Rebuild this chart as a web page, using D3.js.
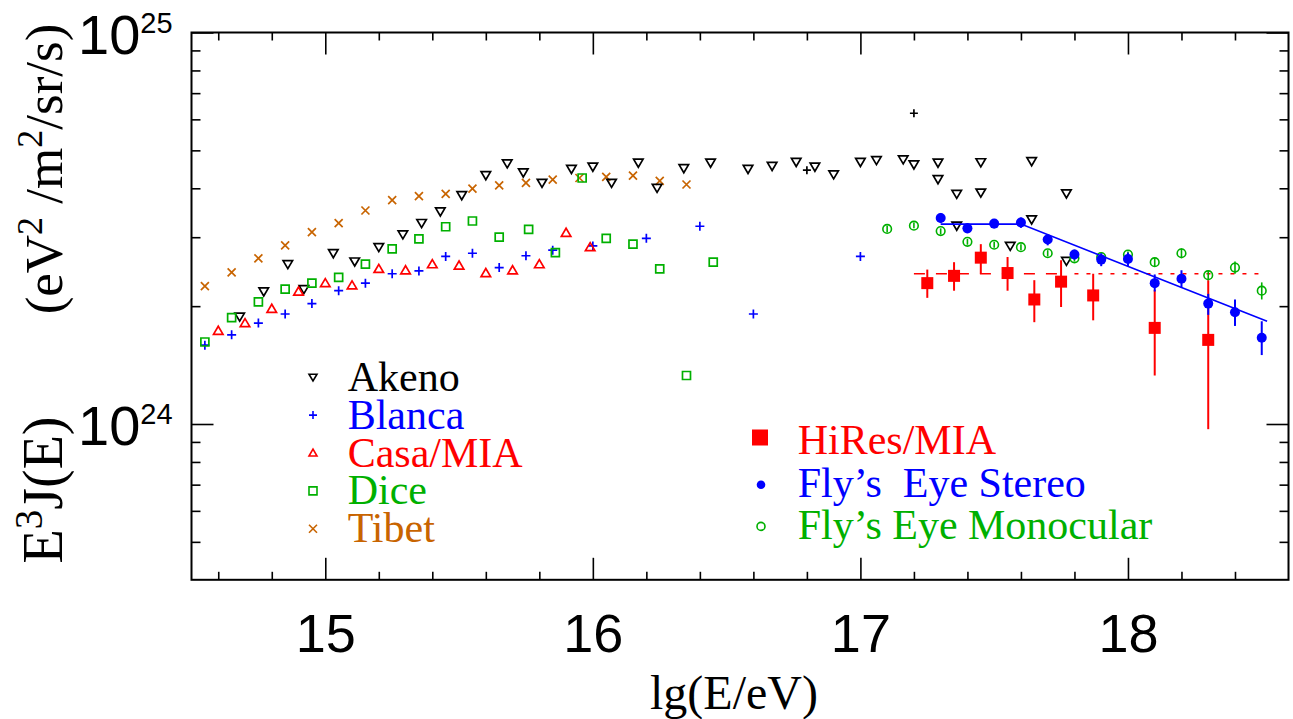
<!DOCTYPE html>
<html>
<head>
<meta charset="utf-8">
<script src="https://cdn.jsdelivr.net/npm/d3@7"></script>
<style>
  html, body { margin: 0; padding: 0; background: #fff; }
  svg { display: block; }
</style>
</head>
<body>
<div id="chart"></div>
<script>
// energies are lg(E/eV), fluxes are E^3 J(E) in units of 1e24 eV^2/m^2/sr/s

var tibetE = [14.55, 14.65, 14.75, 14.85, 14.95, 15.05, 15.15, 15.25, 15.35, 15.45, 15.55, 15.65, 15.75, 15.85, 15.95, 16.05, 16.15, 16.25, 16.35];
var tibetJ = [2.25, 2.44, 2.65, 2.86, 3.09, 3.26, 3.51, 3.73, 3.82, 3.87, 3.99, 4.07, 4.13, 4.21, 4.25, 4.28, 4.31, 4.18, 4.09];

var akenoE = [14.68, 14.77, 14.86, 14.92, 15.03, 15.11, 15.20, 15.29, 15.36, 15.43, 15.51, 15.60, 15.68, 15.74, 15.81, 15.92, 16.00, 16.07, 16.17, 16.24, 16.34,
              16.44, 16.58, 16.67, 16.76, 16.83, 16.90, 17.00, 17.06, 17.16, 17.20, 17.29, 17.29, 17.36, 17.36, 17.45, 17.45, 17.56, 17.64, 17.64, 17.77, 17.77];
var akenoJ = [1.88, 2.18, 2.56, 2.21, 2.73, 2.60, 2.83, 3.05, 3.26, 3.49, 3.84, 4.32, 4.63, 4.39, 4.13, 4.48, 4.54, 4.13, 4.65, 4.01, 4.50,
              4.65, 4.48, 4.56, 4.67, 4.54, 4.34, 4.67, 4.72, 4.74, 4.60, 4.65, 4.22, 3.87, 3.21, 4.66, 3.90, 2.85, 4.69, 3.33, 3.88, 2.61];

var blancaE = [14.55, 14.65, 14.75, 14.85, 14.95, 15.05, 15.15, 15.25, 15.35, 15.45, 15.55, 15.65, 15.75, 15.85, 16.00, 16.20, 16.40, 16.60, 17.00];
var blancaJ = [1.59, 1.69, 1.81, 1.91, 2.03, 2.19, 2.29, 2.42, 2.46, 2.68, 2.73, 2.51, 2.69, 2.78, 2.85, 2.98, 3.20, 1.91, 2.68];

var casaE = [14.60, 14.70, 14.80, 14.90, 15.00, 15.10, 15.20, 15.30, 15.40, 15.50, 15.60, 15.70, 15.80, 15.90, 15.99];
var casaJ = [1.73, 1.81, 1.97, 2.18, 2.29, 2.26, 2.49, 2.47, 2.56, 2.54, 2.43, 2.47, 2.56, 3.08, 2.83];

var diceE = [14.55, 14.65, 14.75, 14.85, 14.95, 15.05, 15.15, 15.25, 15.35, 15.45, 15.55, 15.65, 15.76, 15.86, 15.96, 16.05, 16.15, 16.25, 16.35, 16.45];
var diceJ = [1.62, 1.87, 2.05, 2.21, 2.29, 2.37, 2.56, 2.80, 2.97, 3.19, 3.30, 3.00, 3.14, 2.74, 4.25, 2.98, 2.88, 2.49, 1.33, 2.59];

// two black crosses that are not in the legend
var otherE = [16.80, 17.20];
var otherJ = [4.45, 6.22];

var hiresE  = [17.25, 17.35, 17.45, 17.55, 17.65, 17.75, 17.87, 18.10, 18.30];
var hiresJ  = [2.29, 2.39, 2.66, 2.43, 2.08, 2.31, 2.13, 1.76, 1.64];
var hiresLo = [2.10, 2.19, 2.42, 2.19, 1.82, 1.99, 1.84, 1.33, 0.97];
var hiresHi = [2.48, 2.59, 2.88, 2.67, 2.33, 2.62, 2.42, 2.20, 2.33];

var stereoE  = [17.3, 17.4, 17.5, 17.6, 17.7, 17.8, 17.9, 18.0, 18.1, 18.2, 18.3, 18.4, 18.5];
var stereoJ  = [3.36, 3.16, 3.25, 3.27, 2.96, 2.71, 2.63, 2.64, 2.29, 2.35, 2.03, 1.93, 1.66];
var stereoLo = [3.26, 3.07, 3.16, 3.17, 2.86, 2.63, 2.53, 2.53, 2.18, 2.23, 1.90, 1.78, 1.50];
var stereoHi = [3.46, 3.26, 3.34, 3.37, 3.05, 2.79, 2.73, 2.74, 2.41, 2.47, 2.15, 2.08, 1.83];

var monoE  = [17.1, 17.2, 17.3, 17.4, 17.5, 17.6, 17.7, 17.8, 17.9, 18.0, 18.1, 18.2, 18.3, 18.4, 18.5];
var monoJ  = [3.15, 3.21, 3.11, 2.92, 2.87, 2.83, 2.73, 2.65, 2.67, 2.71, 2.59, 2.73, 2.40, 2.51, 2.19];
var monoLo = [3.09, 3.16, 3.05, 2.87, 2.82, 2.78, 2.68, 2.60, 2.62, 2.66, 2.52, 2.65, 2.33, 2.42, 2.08];
var monoHi = [3.21, 3.27, 3.16, 2.97, 2.92, 2.88, 2.78, 2.70, 2.72, 2.76, 2.66, 2.81, 2.47, 2.60, 2.30];

// stereo fit (broken power law)
var fitE = [17.3, 17.6, 18.52];
var fitJ = [3.24, 3.24, 1.83];

// HiRes/MIA level line
var levelJ = 2.42;
var levelDashE = [17.2, 17.76];
var levelDotE = [17.8, 18.5];

var xMajor = [15, 16, 17, 18];
var xMinor = [14.6, 14.8, 15.2, 15.4, 15.6, 15.8, 16.2, 16.4, 16.6, 16.8, 17.2, 17.4, 17.6, 17.8, 18.2, 18.4];
var yMajor = [1, 10];
var yMinor = [0.5, 0.6, 0.7, 0.8, 0.9, 2, 3, 4, 5, 6, 7, 8, 9];
var yLabels = ["24", "25"];

var BLACK = "#000000", BLUE = "#0000ff", RED = "#ff0000", GREEN = "#00b000", ORANGE = "#c86400";

var width = 1293, height = 719;
var plot = { left: 191.5, right: 1288.5, top: 32.5, bottom: 579.8 };

var svg = d3.select("#chart")
    .append("svg")
    .attr("width", width)
    .attr("height", height);

var x = d3.scaleLinear().domain([14.5, 18.6]).range([plot.left, plot.right]);
var y = d3.scaleLog().domain([0.4, 10]).range([plot.bottom, plot.top]);

// marker shapes
function marker(type, s) {
    var h = s / 2;
    if (type == "triDown") return "M" + (-h) + "," + (-h * 0.75) + "L" + h + "," + (-h * 0.75) + "L0," + (h * 0.95) + "Z";
    if (type == "triUp") return "M" + (-h) + "," + (h * 0.75) + "L" + h + "," + (h * 0.75) + "L0," + (-h * 0.95) + "Z";
    if (type == "plus") return "M" + (-h) + ",0H" + h + "M0," + (-h) + "V" + h;
    if (type == "times") return "M" + (-h) + "," + (-h) + "L" + h + "," + h + "M" + (-h) + "," + h + "L" + h + "," + (-h);
    if (type == "square") return "M" + (-h) + "," + (-h) + "H" + h + "V" + h + "H" + (-h) + "Z";
}

function scatter(es, js, type, size, color) {
    svg.append("g")
        .selectAll("path")
        .data(es)
        .enter()
        .append("path")
        .attr("transform", function (d, i) { return "translate(" + x(d) + "," + y(js[i]) + ")"; })
        .attr("d", marker(type, size))
        .attr("fill", "none")
        .attr("stroke", color)
        .attr("stroke-width", 1.7);
}

function errorBars(es, lo, hi, color, w) {
    svg.append("g")
        .selectAll("line")
        .data(es)
        .enter()
        .append("line")
        .attr("x1", function (d) { return x(d); })
        .attr("x2", function (d) { return x(d); })
        .attr("y1", function (d, i) { return y(lo[i]); })
        .attr("y2", function (d, i) { return y(hi[i]); })
        .attr("stroke", color)
        .attr("stroke-width", w);
}

// frame
svg.append("rect")
    .attr("x", plot.left).attr("y", plot.top)
    .attr("width", plot.right - plot.left).attr("height", plot.bottom - plot.top)
    .attr("fill", "none").attr("stroke", "#000").attr("stroke-width", 2);

function addAxis(axis, tx, ty) {
    var g = svg.append("g").attr("transform", "translate(" + tx + "," + ty + ")").call(axis);
    g.select(".domain").remove();
    g.selectAll(".tick line").attr("stroke", "#000").attr("stroke-width", 1.6);
    return g;
}

var xAxis = addAxis(d3.axisBottom(x).tickValues(xMajor).tickSize(-22).tickPadding(34).tickFormat(d3.format("d")), 0, plot.bottom);
xAxis.selectAll("text")
    .attr("font-family", "'Liberation Sans', Arial, sans-serif")
    .attr("font-size", 54)
    .attr("fill", "#000");
addAxis(d3.axisBottom(x).tickValues(xMinor).tickSize(-8).tickFormat(""), 0, plot.bottom);
addAxis(d3.axisTop(x).tickValues(xMajor).tickSize(-22).tickFormat(""), 0, plot.top);
addAxis(d3.axisTop(x).tickValues(xMinor).tickSize(-8).tickFormat(""), 0, plot.top);
addAxis(d3.axisLeft(y).tickValues(yMajor).tickSize(-22).tickFormat(""), plot.left, 0);
addAxis(d3.axisLeft(y).tickValues(yMinor).tickSize(-9).tickFormat(""), plot.left, 0);
addAxis(d3.axisRight(y).tickValues(yMajor).tickSize(-22).tickFormat(""), plot.right, 0);
addAxis(d3.axisRight(y).tickValues(yMinor).tickSize(-9).tickFormat(""), plot.right, 0);

// y tick labels 10^24, 10^25
yMajor.forEach(function (v, i) {
    var t = svg.append("text")
        .attr("x", 78)
        .attr("y", y(v) + 21)
        .attr("font-family", "'Liberation Sans', Arial, sans-serif")
        .attr("fill", "#000");
    t.append("tspan").attr("font-size", 56).text("10");
    t.append("tspan").attr("font-size", 29).attr("dy", -21).text(yLabels[i]);
});

// axis titles
svg.append("text")
    .attr("x", 734).attr("y", 709)
    .attr("text-anchor", "middle")
    .attr("font-family", "'Liberation Serif', 'Times New Roman', serif")
    .attr("font-size", 48)
    .text("lg(E/eV)");

var yt1 = svg.append("text")
    .attr("transform", "translate(62,169) rotate(-90)")
    .attr("text-anchor", "middle")
    .attr("font-family", "'Liberation Serif', 'Times New Roman', serif")
    .attr("font-size", 53);
yt1.append("tspan").text("(eV");
yt1.append("tspan").attr("font-size", 36).attr("dy", -20).text("2");
yt1.append("tspan").attr("dy", 20).style("white-space", "pre").text(" /m");
yt1.append("tspan").attr("font-size", 36).attr("dy", -20).text("2");
yt1.append("tspan").attr("dy", 20).text("/sr/s)");

var yt2 = svg.append("text")
    .attr("transform", "translate(62,490) rotate(-90)")
    .attr("text-anchor", "middle")
    .attr("font-family", "'Liberation Serif', 'Times New Roman', serif")
    .attr("font-size", 56);
yt2.append("tspan").text("E");
yt2.append("tspan").attr("font-size", 39).attr("dy", -20).text("3");
yt2.append("tspan").attr("dy", 20).text("J(E)");

// low energy experiments
scatter(tibetE, tibetJ, "times", 8, ORANGE);
scatter(akenoE, akenoJ, "triDown", 9.5, BLACK);
scatter(otherE, otherJ, "plus", 8, BLACK);
scatter(blancaE, blancaJ, "plus", 9, BLUE);
scatter(casaE, casaJ, "triUp", 9.5, RED);
scatter(diceE, diceJ, "square", 8, GREEN);

// HiRes/MIA level line
svg.append("path")
    .datum(levelDashE)
    .attr("fill", "none").attr("stroke", RED).attr("stroke-width", 1.6)
    .attr("stroke-dasharray", "11,11")
    .attr("d", d3.line().x(function (d) { return x(d); }).y(function () { return y(levelJ); }));
svg.append("path")
    .datum(levelDotE)
    .attr("fill", "none").attr("stroke", RED).attr("stroke-width", 1.6)
    .attr("stroke-dasharray", "4,8")
    .attr("d", d3.line().x(function (d) { return x(d); }).y(function () { return y(levelJ); }));

// HiRes/MIA
errorBars(hiresE, hiresLo, hiresHi, RED, 2);
svg.append("g")
    .selectAll("rect")
    .data(hiresE)
    .enter()
    .append("rect")
    .attr("x", function (d) { return x(d) - 6; })
    .attr("y", function (d, i) { return y(hiresJ[i]) - 6; })
    .attr("width", 12).attr("height", 12)
    .attr("fill", RED);

// Fly's Eye monocular
errorBars(monoE, monoLo, monoHi, GREEN, 1.6);
svg.append("g")
    .selectAll("circle")
    .data(monoE)
    .enter()
    .append("circle")
    .attr("cx", function (d) { return x(d); })
    .attr("cy", function (d, i) { return y(monoJ[i]); })
    .attr("r", 4.3)
    .attr("fill", "none").attr("stroke", GREEN).attr("stroke-width", 1.6);

// Fly's Eye stereo + fit
svg.append("path")
    .datum(fitE)
    .attr("fill", "none").attr("stroke", BLUE).attr("stroke-width", 1.6)
    .attr("d", d3.line().x(function (d) { return x(d); }).y(function (d, i) { return y(fitJ[i]); }));
errorBars(stereoE, stereoLo, stereoHi, BLUE, 2);
svg.append("g")
    .selectAll("circle")
    .data(stereoE)
    .enter()
    .append("circle")
    .attr("cx", function (d) { return x(d); })
    .attr("cy", function (d, i) { return y(stereoJ[i]); })
    .attr("r", 5)
    .attr("fill", BLUE);

// legends
var serif = "'Liberation Serif', 'Times New Roman', serif";
var leftNames = ["Akeno", "Blanca", "Casa/MIA", "Dice", "Tibet"];
var leftTypes = ["triDown", "plus", "triUp", "square", "times"];
var leftColors = [BLACK, BLUE, RED, GREEN, ORANGE];
leftNames.forEach(function (name, i) {
    var by = 390.7 + i * 37.9;
    svg.append("path")
        .attr("transform", "translate(313," + (by - 13.5) + ")")
        .attr("d", marker(leftTypes[i], 8))
        .attr("fill", "none").attr("stroke", leftColors[i]).attr("stroke-width", 1.6);
    svg.append("text")
        .attr("x", 347.7).attr("y", by)
        .attr("font-family", serif).attr("font-size", 42)
        .attr("fill", leftColors[i])
        .text(name);
});

var rightNames = ["HiRes/MIA", "Fly\u2019s  Eye Stereo", "Fly\u2019s Eye Monocular"];
var rightColors = [RED, BLUE, GREEN];
rightNames.forEach(function (name, i) {
    var by = 454 + i * 42.7;
    if (i == 0) {
        svg.append("rect").attr("x", 752).attr("y", by - 24.5).attr("width", 16).attr("height", 16).attr("fill", RED);
    } else if (i == 1) {
        svg.append("circle").attr("cx", 761).attr("cy", by - 12).attr("r", 4.3).attr("fill", BLUE);
    } else {
        svg.append("circle").attr("cx", 761).attr("cy", by - 13).attr("r", 4).attr("fill", "none")
            .attr("stroke", GREEN).attr("stroke-width", 1.6);
    }
    svg.append("text")
        .attr("x", 797.7).attr("y", by)
        .attr("font-family", serif).attr("font-size", 42)
        .attr("fill", rightColors[i])
        .style("white-space", "pre")
        .text(name);
});
</script>
</body>
</html>
